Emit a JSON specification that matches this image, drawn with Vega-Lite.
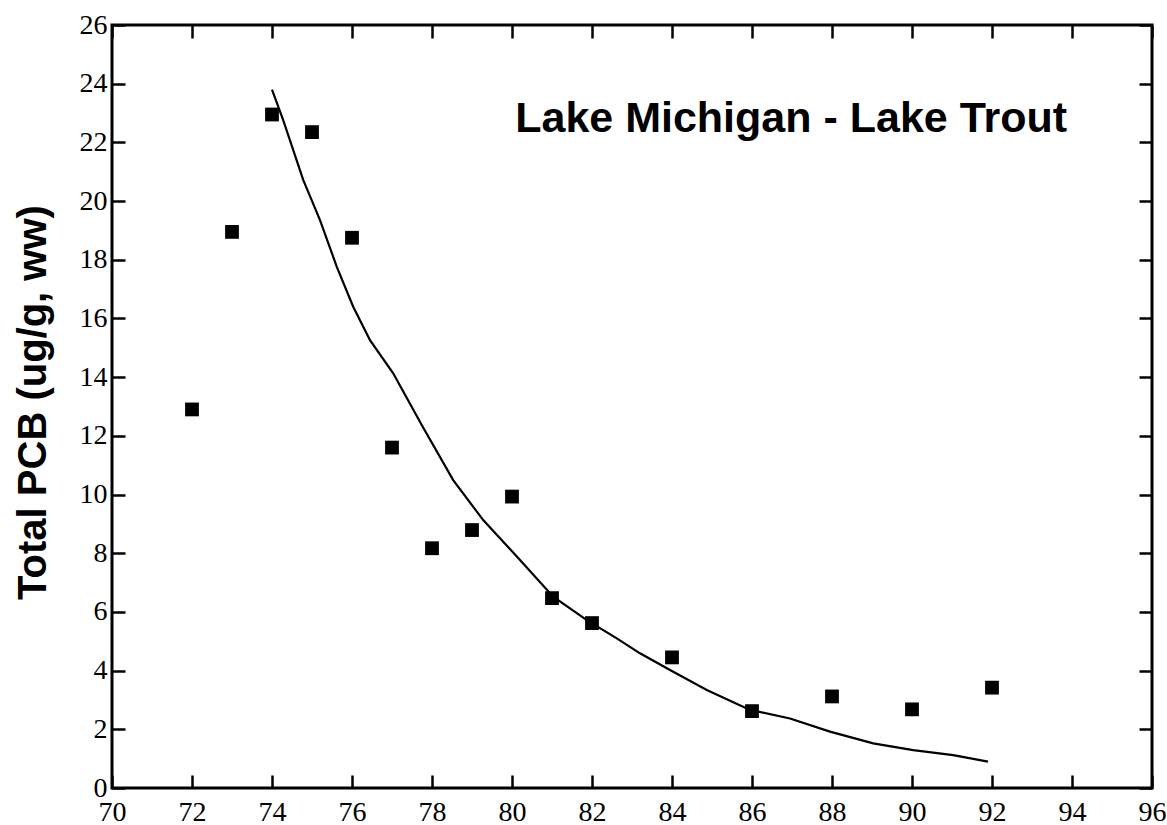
{
  "$schema": "https://vega.github.io/schema/vega-lite/v6.json",
  "autosize": "none",
  "width": 1040,
  "height": 763,
  "padding": {"left": 112, "top": 25, "right": 15, "bottom": 37},
  "background": "white",
  "config": {
    "view": {"stroke": "black", "strokeWidth": 3},
    "axis": {
      "grid": false,
      "domain": false,
      "tickColor": "black",
      "tickWidth": 2.5,
      "tickSize": -13,
      "labelFont": "Liberation Serif",
      "labelFontSize": 28,
      "labelColor": "black",
      "titleFont": "Liberation Sans",
      "titleFontWeight": "bold",
      "titleColor": "black"
    }
  },
  "datasets": {
    "measured": [
      {"year": 72, "pcb": 12.9},
      {"year": 73, "pcb": 18.95},
      {"year": 74, "pcb": 22.95},
      {"year": 75, "pcb": 22.35},
      {"year": 76, "pcb": 18.75},
      {"year": 77, "pcb": 11.6},
      {"year": 78, "pcb": 8.17},
      {"year": 79, "pcb": 8.79},
      {"year": 80, "pcb": 9.93},
      {"year": 81, "pcb": 6.47},
      {"year": 82, "pcb": 5.62},
      {"year": 84, "pcb": 4.45},
      {"year": 86, "pcb": 2.62},
      {"year": 88, "pcb": 3.12},
      {"year": 90, "pcb": 2.68},
      {"year": 92, "pcb": 3.42}
    ],
    "fitted": [
      {"year": 74.0, "pcb": 23.8},
      {"year": 74.28, "pcb": 22.76},
      {"year": 74.78, "pcb": 20.72},
      {"year": 75.2, "pcb": 19.35},
      {"year": 75.62, "pcb": 17.76},
      {"year": 76.03, "pcb": 16.4},
      {"year": 76.45, "pcb": 15.26},
      {"year": 77.03, "pcb": 14.13},
      {"year": 77.75, "pcb": 12.35},
      {"year": 78.53, "pcb": 10.49},
      {"year": 79.28, "pcb": 9.13},
      {"year": 80.2, "pcb": 7.77},
      {"year": 81.03, "pcb": 6.52},
      {"year": 81.87, "pcb": 5.72},
      {"year": 82.62, "pcb": 5.1},
      {"year": 83.2, "pcb": 4.59},
      {"year": 83.95, "pcb": 4.02},
      {"year": 84.87, "pcb": 3.34},
      {"year": 85.95, "pcb": 2.66},
      {"year": 86.95, "pcb": 2.37},
      {"year": 87.95, "pcb": 1.92},
      {"year": 89.03, "pcb": 1.52},
      {"year": 90.03, "pcb": 1.29},
      {"year": 91.03, "pcb": 1.12},
      {"year": 91.9, "pcb": 0.9}
    ]
  },
  "resolve": {"axis": {"x": "independent", "y": "independent"}},
  "layer": [
    {
      "data": {"name": "measured"},
      "mark": {"type": "square", "size": 190, "color": "black", "opacity": 1, "filled": true},
      "encoding": {
        "x": {
          "field": "year", "type": "quantitative",
          "scale": {"domain": [70, 96], "nice": false, "zero": false},
          "axis": {"orient": "bottom", "values": [70,72,74,76,78,80,82,84,86,88,90,92,94,96], "title": null, "labelPadding": 23, "labelFlush": false, "labelOverlap": false}
        },
        "y": {
          "field": "pcb", "type": "quantitative",
          "scale": {"domain": [0, 26], "nice": false},
          "axis": {"orient": "left", "values": [0,2,4,6,8,10,12,14,16,18,20,22,24,26], "title": "Total PCB (ug/g, ww)", "titleFontSize": 40, "titlePadding": 26, "titleY": 377, "labelPadding": 18, "labelFlush": false, "labelOverlap": false}
        }
      }
    },
    {
      "data": {"name": "fitted"},
      "mark": {"type": "line", "color": "black", "strokeWidth": 2.2},
      "encoding": {
        "x": {
          "field": "year", "type": "quantitative",
          "axis": {"orient": "top", "values": [70,72,74,76,78,80,82,84,86,88,90,92,94,96], "labels": false, "title": null}
        },
        "y": {
          "field": "pcb", "type": "quantitative",
          "axis": {"orient": "right", "values": [0,2,4,6,8,10,12,14,16,18,20,22,24,26], "labels": false, "title": null}
        }
      }
    },
    {
      "data": {"values": [{"label": "Lake Michigan - Lake Trout"}]},
      "mark": {"type": "text", "align": "left", "baseline": "middle", "font": "Liberation Sans", "fontWeight": "bold", "fontSize": 43, "color": "black"},
      "encoding": {
        "x": {"datum": 80.08, "type": "quantitative", "axis": null},
        "y": {"datum": 22.8, "type": "quantitative", "axis": null},
        "text": {"field": "label"}
      }
    }
  ]
}
